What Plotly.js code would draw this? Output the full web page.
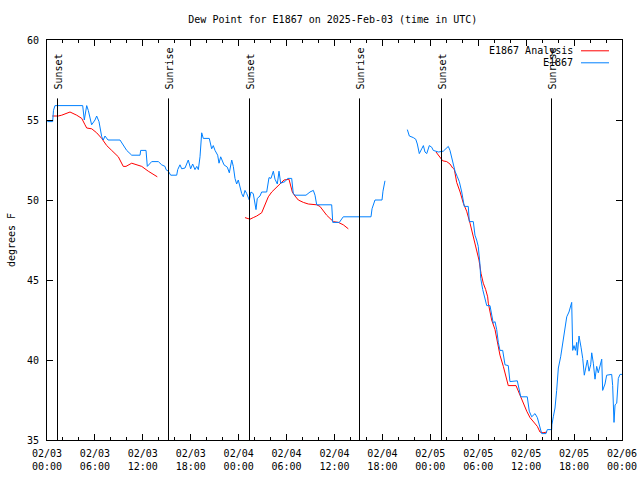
<!DOCTYPE html>
<html>
<head>
<meta charset="utf-8">
<script src="https://cdn.plot.ly/plotly-3.0.1.min.js"></script>
<style>html,body{margin:0;padding:0;background:#fff;}#chart{width:640px;height:480px;}</style>
</head>
<body>
<div id="chart"></div>
<script>
// Time values are hours after 2025-02-03 00:00 UTC
const obsHours = [0.04,0.71,0.81,1.0,4.47,4.67,4.97,5.17,5.59,6.01,6.22,6.51,6.85,7.05,7.26,7.64,9.14,9.98,10.61,11.65,11.73,12.40,12.56,13.11,13.94,14.36,14.78,14.90,15.19,15.49,16.24,16.37,16.65,16.87,17.28,17.69,17.99,18.24,18.53,18.75,18.95,19.16,19.37,19.57,20.32,20.62,20.82,21.04,21.37,21.54,21.75,22.00,22.16,22.58,22.83,23.13,23.33,23.54,23.75,23.95,24.17,24.38,24.58,24.79,25.01,25.21,25.33,25.54,25.83,26.17,26.33,26.67,26.88,27.51,27.80,28.05,28.34,28.55,28.84,29.05,29.26,29.80,30.14,30.64,30.84,31.05,32.43,32.93,33.35,33.56,33.77,35.65,35.78,36.60,36.90,37.10,40.57,40.70,41.07,41.95,42.07,42.32,
  null,
  45.12,45.37,45.87,46.17,46.37,46.62,46.92,47.13,47.33,47.55,47.87,48.17,48.37,49.00,49.62,50.05,50.25,50.46,50.80,51.09,51.38,51.63,51.93,52.25,52.75,52.88,53.38,53.59,53.80,54.00,54.21,54.31,54.56,55.06,55.47,55.68,55.88,56.10,56.31,56.51,56.72,57.06,57.35,57.76,57.97,58.89,59.10,59.32,60.14,60.39,60.69,61.11,61.40,61.73,61.94,62.48,62.65,63.20,63.22,63.40,63.61,63.82,64.03,64.32,64.58,64.86,65.08,65.36,65.70,65.83,65.99,66.16,66.33,66.40,66.62,66.87,67.08,67.28,67.45,67.66,67.87,68.08,68.21,68.41,68.62,68.83,69.03,69.25,69.46,69.58,69.87,70.08,70.71,70.83,71.00,71.13,71.34,71.54,71.75,72.0];
const obsDew = [54.9,54.9,55.6,55.9,55.9,55.0,55.9,55.6,54.7,55.0,55.25,54.9,53.96,53.75,54.0,53.75,53.75,53.1,52.8,52.8,53.1,53.1,52.1,52.4,52.4,52.2,52.1,51.9,51.8,51.55,51.55,51.9,52.2,51.95,52.0,52.5,51.95,52.25,51.9,52.1,51.9,52.7,54.2,53.85,53.85,53.2,53.4,53.1,52.8,52.3,52.7,52.4,52.2,52.05,51.7,52.5,52.1,51.35,51.0,51.25,50.7,50.4,50.2,50.6,50.4,50.2,50.0,50.5,50.4,49.4,50.1,50.25,50.5,50.5,51.4,51.35,51.8,51.3,51.0,51.8,51.05,51.15,51.35,51.35,50.4,50.3,50.3,50.5,50.6,50.3,49.7,49.7,48.6,48.6,48.85,48.95,48.95,49.45,50.0,50.0,50.55,51.2,
  null,
  54.4,54.0,53.9,53.8,53.5,52.9,53.2,53.4,53.0,52.9,53.4,53.3,53.1,53.0,53.05,53.3,53.35,53.1,52.3,51.8,51.45,51.15,50.5,49.6,49.6,48.65,48.65,47.8,47.5,47.1,46.0,45.1,44.4,43.4,43.4,42.7,42.3,42.4,41.9,41.1,40.6,40.6,39.7,39.65,38.65,38.7,38.2,37.7,37.7,36.8,36.45,36.65,36.4,35.85,35.4,35.4,35.65,35.65,35.95,36.45,37.0,38.1,39.5,40.2,41.1,41.9,42.7,43.0,43.6,40.6,40.9,40.6,41.1,40.3,41.5,40.8,40.1,39.05,39.4,40.0,39.3,39.7,40.45,39.8,38.8,39.6,39.2,39.6,40.05,38.1,38.5,39.05,39.1,38.4,36.1,37.2,37.3,38.85,39.1,39.1];

const anaHours = [0.66,1.41,1.84,2.88,3.72,4.35,4.76,4.97,5.60,6.22,6.85,7.48,8.10,8.93,9.55,9.89,10.61,11.23,11.86,12.68,13.52,13.81,
  null,
  24.79,25.42,25.83,26.26,26.88,27.30,27.71,28.14,28.55,29.05,29.68,30.30,30.72,31.05,31.47,32.10,32.72,33.77,34.18,35.02,35.85,36.48,37.10,37.73,
  null,
  48.71,49.21,49.55,50.05,50.46,50.80,51.01,51.30,51.73,52.13,52.55,52.97,53.38,53.80,54.09,54.35,54.63,54.93,55.18,55.26,55.68,56.10,56.39,56.72,57.14,57.56,57.76,58.73,59.23,59.64,60.07,60.48,60.91,61.40,61.73,62.11,62.61];
const anaDew = [55.25,55.25,55.3,55.5,55.3,55.1,54.7,54.5,54.45,54.2,53.85,53.4,53.1,52.7,52.1,52.1,52.3,52.2,52.1,51.8,51.5,51.45,
  null,
  48.9,48.8,48.9,49.0,49.2,49.7,50.2,50.5,50.7,51.0,51.25,51.3,50.5,50.25,50.0,49.85,49.75,49.7,49.6,49.05,48.65,48.6,48.45,48.2,
  null,
  53.0,52.7,52.45,52.4,52.25,52.0,51.9,51.1,50.5,49.8,49.3,48.55,47.7,47.0,46.25,45.4,44.8,44.4,43.95,43.55,42.5,41.9,41.1,40.3,39.6,38.75,38.4,38.4,37.8,37.2,36.8,36.4,36.15,35.85,35.5,35.45,35.5];

const sunHours = [1.315, 15.214, 25.357, 39.130, 49.398, 63.172];
const sunLabels = ["Sunset", "Sunrise", "Sunset", "Sunrise", "Sunset", "Sunrise"];

const tickHours = [0, 6, 12, 18, 24, 30, 36, 42, 48, 54, 60, 66, 72];
const tickText = ["02/03<br>00:00","02/03<br>06:00","02/03<br>12:00","02/03<br>18:00",
                  "02/04<br>00:00","02/04<br>06:00","02/04<br>12:00","02/04<br>18:00",
                  "02/05<br>00:00","02/05<br>06:00","02/05<br>12:00","02/05<br>18:00","02/06<br>00:00"];

const seriesNames = ["E1867 Analysis", "E1867"];
const seriesColors = ["#ff0000", "#0080ff"];

const BASE = Date.UTC(2025, 1, 3, 0, 0, 0);
function toDate(h) {
  if (h === null) return null;
  const d = new Date(BASE + Math.round(h * 3600000));
  return d.toISOString().replace('T', ' ').slice(0, 19);
}

const FONT = "DejaVu Sans Mono, monospace";

const traces = [
  {x: anaHours.map(toDate), y: anaDew, name: seriesNames[0], mode: 'lines',
   line: {color: seriesColors[0], width: 1}, connectgaps: false, showlegend: false},
  {x: obsHours.map(toDate), y: obsDew, name: seriesNames[1], mode: 'lines',
   line: {color: seriesColors[1], width: 1}, connectgaps: false, showlegend: false}
];

const shapes = sunHours.map(h => ({
  type: 'line', xref: 'x', yref: 'y', x0: toDate(h), x1: toDate(h), y0: 35, y1: 56.35,
  line: {color: '#000', width: 1}
}));
const annotations = sunHours.map((h, i) => ({
  x: toDate(h), y: 56.75, xref: 'x', yref: 'y', text: sunLabels[i], textangle: -90,
  showarrow: false, xanchor: 'center', yanchor: 'bottom',
  font: {family: FONT, size: 10, color: '#000'}
}));

// gnuplot-style legend: text on the left, line sample on the right
const legY = [0.973, 0.943];
seriesNames.forEach((n, i) => {
  annotations.push({x: 0.9185, y: legY[i], xref: 'paper', yref: 'paper', text: n,
    showarrow: false, xanchor: 'right', yanchor: 'middle',
    font: {family: FONT, size: 10, color: '#000'}});
  shapes.push({type: 'line', xref: 'paper', yref: 'paper', x0: 0.9287, x1: 0.9774,
    y0: legY[i], y1: legY[i], line: {color: seriesColors[i], width: 1}});
});

const layout = {
  width: 640, height: 480,
  margin: {l: 47, r: 18, t: 40, b: 40, pad: 0},
  paper_bgcolor: '#fff', plot_bgcolor: '#fff',
  font: {family: FONT, size: 10, color: '#000'},
  title: {text: 'Dew Point for E1867 on 2025-Feb-03 (time in UTC)', x: 0.52, xanchor: 'center',
          y: 0.96, yanchor: 'middle', font: {family: FONT, size: 10, color: '#000'}},
  xaxis: {
    type: 'date', range: [toDate(0), toDate(72)],
    tickmode: 'array', tickvals: tickHours.map(toDate), ticktext: tickText,
    ticks: 'inside', ticklen: 6, tickcolor: '#000', tickwidth: 1, ticklabelstandoff: 4,
    minor: {dtick: 7200000, tick0: toDate(0), ticks: 'inside', ticklen: 3, tickcolor: '#000', showgrid: false},
    showline: true, linecolor: '#000', linewidth: 1, mirror: 'ticks',
    showgrid: false, zeroline: false, fixedrange: true,
    tickfont: {family: FONT, size: 10, color: '#000'}
  },
  yaxis: {
    range: [35, 60], dtick: 5, tick0: 35,
    ticks: 'inside', ticklen: 6, tickcolor: '#000', tickwidth: 1, ticklabelstandoff: 5,
    showline: true, linecolor: '#000', linewidth: 1, mirror: 'ticks',
    showgrid: false, zeroline: false, fixedrange: true,
    title: {text: 'degrees F', standoff: 9, font: {family: FONT, size: 10, color: '#000'}},
    tickfont: {family: FONT, size: 10, color: '#000'}
  },
  shapes: shapes,
  annotations: annotations,
  showlegend: false
};

Plotly.newPlot('chart', traces, layout, {staticPlot: true, displayModeBar: false});
</script>
</body>
</html>
